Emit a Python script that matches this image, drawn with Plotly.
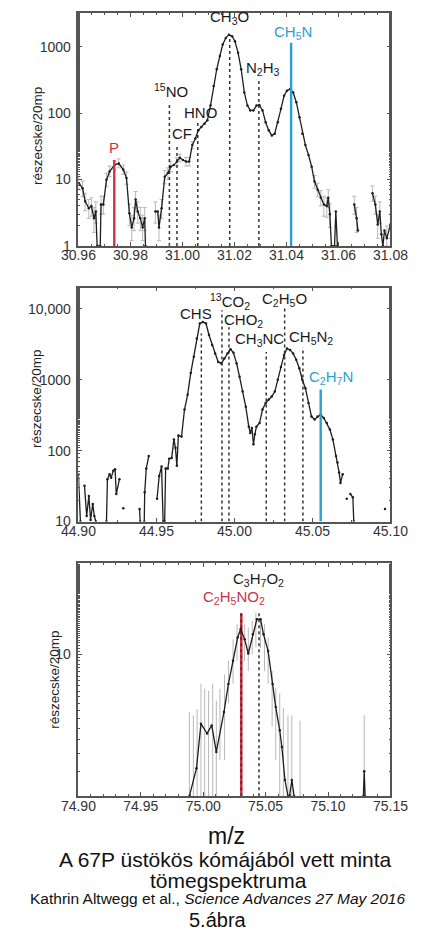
import math
import plotly.graph_objects as go

# ---------------- data ----------------
# Panel 1 (m/z ~31)
mz1 = [30.9602, 30.9616, 30.9626, 30.9640, 30.9650, 30.9660, 30.9667, 30.9672, 30.9684, 30.9687, 30.9696,
       30.9708, 30.9720, 30.9738, 30.9755, 30.9773, 30.9785, 30.9796, 30.9805, 30.9814, 30.9820, 30.9828,
       30.9838, 30.9847, 30.9855, 30.9858, None,
       30.9896, 30.9905, 30.9910, 30.9920, 30.9932, 30.9944, 30.9955, 30.9967, 30.9979, 30.9990, 31.0002,
       31.0014, 31.0026, 31.0038, 31.0050, 31.0061, 31.0073, 31.0085, 31.0096, 31.0108, 31.0120, 31.0132,
       31.0144, 31.0155, 31.0167, 31.0179, 31.0191, 31.0202, 31.0214, 31.0226, 31.0238, 31.0250, 31.0261,
       31.0273, 31.0285, 31.0296, 31.0308, 31.0320, 31.0332, 31.0344, 31.0355, 31.0367, 31.0379, 31.0391,
       31.0402, 31.0414, 31.0426, 31.0438, 31.0450, 31.0461, 31.0473, 31.0485, 31.0497, 31.0508, 31.0520,
       31.0532, 31.0544, 31.0555, 31.0561, 31.0567, 31.0573, 31.0585, 31.0590, 31.0596, None,
       31.0661, 31.0670, 31.0675, None,
       31.0731, 31.0742, 31.0751, 31.0759, 31.0765, 31.0771, 31.0777, 31.0786, 31.0800]
cnt1 = [8.8, 7.4, 4.7, 3.7, 4.0, 2.6, 3.3, 1, 1, 4.2, 4.2,
        9.9, 13.2, 16.5, 17.5, 14, 10.5, 3.1, 1.9, 2.6, 5.0, 3.3,
        2.6, 1.9, 2.6, 1, None,
        3.3, 3.3, 1.9, 3.7, 11, 12.5, 15.6, 16.5, 18.6, 21.3, 19.7,
        18.6, 18.6, 33, 41.5, 55, 62, 69, 78, 130, 257, 458,
        725, 1080, 1360, 1520, 1440, 1210, 815, 458, 205, 130, 110,
        110, 130, 133, 110, 73, 55, 46, 49, 73, 116, 183,
        218, 230, 205, 146, 87, 49, 33, 23.4, 15.6, 9.3, 7.0,
        5.3, 4.2, 4.0, 5.3, 3.0, 1, 1, 3.3, 1, None,
        4.2, 2.6, 1.7, None,
        6.2, 4.2, 2.1, 3.3, 1.5, 1, 1.7, 1.3, 2.1]

# Panel 1 error bars (position, lower, upper)
eb1_mz = [30.9602, 30.9616, 30.9626, 30.9640, 30.9650, 30.9660, 30.9667, 30.9687, 30.9696, 30.9708,
          30.9720, 30.9738, 30.9755, 30.9773, 30.9785, 30.9796, 30.9805, 30.9814, 30.9820, 30.9828,
          30.9838, 30.9847, 30.9855, 30.9896, 30.9910, 30.9920, 30.9932, 30.9944, 30.9955, 30.9979,
          30.9990, 31.0014, 31.0026, 31.0038, 31.0508, 31.0520, 31.0532, 31.0544, 31.0555, 31.0561,
          31.0567, 31.0661, 31.0670, 31.0731, 31.0742, 31.0751, 31.0759, 31.0786, 31.0800]
eb1_lo = [7, 5.5, 3.4, 2.6, 2.8, 1.6, 2.2, 3, 3, 7.8,
          11, 14, 15, 12, 8.5, 2, 1.2, 1.7, 3.6, 2.2,
          1.7, 1.2, 1.7, 2.2, 1.2, 2.6, 8.6, 10, 13, 16,
          18.5, 16, 16, 29, 7.4, 5.5, 4, 2.8, 2.7, 3.8,
          1.9, 3, 1.6, 4.7, 3, 1.3, 2.2, 1, 1.3]
eb1_hi = [11, 9.5, 6.2, 5, 5.3, 3.8, 4.6, 5.6, 5.6, 12.5,
          16, 19, 20.5, 16.5, 13, 4.3, 2.9, 3.8, 6.6, 4.6,
          3.8, 2.9, 3.8, 4.6, 2.9, 5, 13.6, 15, 18.5, 21.5,
          24, 21.5, 21.5, 37, 11.5, 8.8, 6.8, 5.6, 5.3, 7,
          4.3, 5.6, 3.8, 8, 5.6, 3, 4.6, 2, 3]

sp1_name = ["P", "<sup>15</sup>NO", "CF", "HNO", "CH<sub>3</sub>O", "N<sub>2</sub>H<sub>3</sub>", "CH<sub>5</sub>N"]
sp1_mz = [30.9738, 30.9950, 30.9979, 31.0059, 31.0182, 31.0294, 31.0418]
sp1_top = [19.6, 138, 31, 73.6, 1500, 308, 1150]
sp1_kind = ["red", "dot", "dot", "dot", "dot", "dot", "blue"]
xt1 = [30.96, 30.98, 31.00, 31.02, 31.04, 31.06, 31.08]
xl1 = ["30.96", "30.98", "31.00", "31.02", "31.04", "31.06", "31.08"]
yt1 = [1, 10, 100, 1000]
yl1 = ["1", "10", "100", "1000"]

# Panel 2 (m/z ~45)
mz2 = [44.9000, 44.9013, None,
       44.9039, 44.9053, 44.9067, 44.9078, 44.9092, 44.9102, 44.9112, None,
       44.9180, 44.9186, 44.9200, 44.9210, 44.9224, 44.9235, 44.9243, 44.9263, None,
       44.9288, None,
       44.9392, 44.9396, None,
       44.9422, 44.9425, 44.9435, 44.9451, None,
       44.9504, 44.9518, 44.9533, 44.9543, 44.9553, 44.9559, 44.9573, 44.9582, 44.9598, 44.9612,
       44.9622, 44.9631, 44.9641, 44.9661, 44.9680, 44.9700, 44.9720, 44.9740, 44.9759, 44.9778,
       44.9798, 44.9818, 44.9837, 44.9857, 44.9876, 44.9896, 44.9916, 44.9935, 44.9955, 44.9975,
       44.9994, 45.0014, 45.0033, 45.0053, 45.0073, 45.0092, 45.0102, 45.0112, 45.0122, 45.0131,
       45.0141, 45.0161, 45.0180, 45.0200, 45.0220, 45.0239, 45.0259, 45.0278, 45.0298, 45.0318,
       45.0337, 45.0357, 45.0376, 45.0396, 45.0416, 45.0435, 45.0455, 45.0475, 45.0494, 45.0514,
       45.0533, 45.0553, 45.0573, 45.0592, 45.0612, 45.0631, 45.0651, 45.0661, 45.0671, 45.0680,
       45.0694, None,
       45.0720, None,
       45.0743, 45.0759, 45.0765, None,
       45.0965]
cnt2 = [46.5, 10, None,
        32, 12, 23, 10.5, 17.7, 12, 10, None,
        10, 39.6, 46.5, 41.6, 52, 54.5, 24.4, 39.6, None,
        15.4, None,
        15, 10, None,
        10, 25.8, 56, 84, None,
        21, 44, 59.5, 10, 10, 56, 56, 77, 79, 144,
        110, 61, 163, 158, 380, 612, 1240, 2100, 3800, 6200,
        6500, 6200, 4270, 3100, 2350, 1780, 1700, 2000, 2350, 2700,
        2400, 1700, 1100, 680, 415, 218, 177, 209, 123, 170,
        218, 245, 380, 468, 525, 580, 680, 1000, 1510, 2240,
        2750, 2630, 2350, 1910, 1450, 1000, 760, 468, 302, 275,
        302, 323, 288, 245, 198, 144, 84, 68, 49, 35,
        46.5, None,
        21, None,
        24.4, 22, 10, None,
        15]

sp2_name = ["CHS", "<sup>13</sup>CO<sub>2</sub>", "CHO<sub>2</sub>", "CH<sub>3</sub>NC",
            "C<sub>2</sub>H<sub>5</sub>O", "CH<sub>5</sub>N<sub>2</sub>", "C<sub>2</sub>H<sub>7</sub>N"]
sp2_mz = [44.9788, 44.9920, 44.9965, 45.0204, 45.0322, 45.0439, 45.0553]
sp2_top = [4470, 9550, 5500, 2460, 10500, 2880, 725]
sp2_kind = ["dot", "dot", "dot", "dot", "dot", "dot", "blue"]
xt2 = [44.90, 44.95, 45.00, 45.05, 45.10]
xl2 = ["44.90", "44.95", "45.00", "45.05", "45.10"]
yt2 = [10, 100, 1000, 10000]
yl2 = ["10", "100", "1000", "10,000"]

# Panel 3 (m/z ~75)
mz3 = [74.9889, 74.9946, 74.9982, 75.0031, 75.0068, 75.0105, 75.0166, 75.0202, 75.0239, 75.0276,
       75.0300, 75.0332, 75.0361, 75.0398, 75.0430, 75.0459, 75.0483, 75.0520, 75.0556, 75.0581,
       75.0613, 75.0630, 75.0655, 75.0679, 75.0691, 75.0710, 75.0728, None,
       75.1283, 75.1290, 75.1297]
cnt3 = [1, 1.57, 3.24, 2.76, 3.15, 2.05, 3.91, 6.17, 8.98, 13.1,
        15.0, 12.7, 10.1, 13.8, 17.6, 17.6, 13.8, 10.5, 6.17, 4.24,
        2.91, 2.22, 1.30, 1, 1, 1.30, 1, None,
        1, 1.5, 1]

eb3_mz = [74.9889, 74.9921, 74.9951, 74.9982, 75.0012, 75.0043, 75.0076, 75.0105, 75.0134, 75.0171,
          75.0202, 75.0239, 75.0271, 75.0300, 75.0332, 75.0361, 75.0393, 75.0422, 75.0459, 75.0491,
          75.0520, 75.0552, 75.0581, 75.0613, 75.0642, 75.0679, 75.0710, 75.0776, 75.1290]
eb3_lo = [1, 1, 1, 1, 1, 1, 1, 1, 1.8, 1.8,
          4.5, 6.2, 9.0, 9.5, 8.9, 7.6, 10, 11.2, 11, 7.6,
          6.2, 3.1, 1.8, 1, 1, 1, 1, 1, 1]
eb3_hi = [3.9, 3.7, 4.1, 6.2, 5.7, 5.5, 6.2, 4.7, 5.7, 7.2,
          9.0, 12.7, 16.2, 17.1, 16.2, 15.4, 17.1, 19.6, 18, 16.2,
          13.1, 7.6, 5.8, 5.3, 4.2, 3.7, 3.7, 3.4, 3.7]

sp3_name = ["C<sub>2</sub>H<sub>5</sub>NO<sub>2</sub>", "C<sub>3</sub>H<sub>7</sub>O<sub>2</sub>"]
sp3_mz = [75.0305, 75.0447]
sp3_top = [19.4, 20]
sp3_kind = ["redglycine", "dot"]
xt3 = [74.90, 74.95, 75.00, 75.05, 75.10, 75.15]
xl3 = ["74.90", "74.95", "75.00", "75.05", "75.10", "75.15"]
yt3 = [10]
yl3 = ["10"]

# ---------------- style ----------------
W, H = 424, 943
FONT = "Liberation Sans, Arial, sans-serif"
RED = "#cc3344"
BLUE = "#2b9fd0"
CURVE = "#1e1e1e"
AXIS = "#555555"
ERR = "#b8b8b8"

# label offsets (pixels): horizontal shift, distance of label centre above line top
sp1_off = [(0, 13), (2, 13), (5, 13), (3, 9), (0, 18), (4, 12), (2, 10)]
sp2_off = [(-5, 20), (8, 9), (15, 7), (-7, 12), (0, 8), (8, 10), (10, 12)]
sp3_off = [(-7, 16), (-1, 32)]

x_dom = [66 / W, 407 / W]
def ydom(top_px, bot_px):
    return [1 - bot_px / H, 1 - top_px / H]

panels = [
    dict(ax="", mz=mz1, cnt=cnt1, eb=(eb1_mz, eb1_lo, eb1_hi), ebw=2,
         sp=(sp1_name, sp1_mz, sp1_top, sp1_kind, sp1_off),
         xr=[30.96, 31.08], xt=(xt1, xl1), mdt=0.005, yr=[0, 3.51], dom=ydom(13, 248),
         yt=(yt1, yl1), ymin=1, ttl=(22, 137)),
    dict(ax="2", mz=mz2, cnt=cnt2, eb=None, ebw=0,
         sp=(sp2_name, sp2_mz, sp2_top, sp2_kind, sp2_off),
         xr=[44.90, 45.10], xt=(xt2, xl2), mdt=0.025, yr=[1, 4.30], dom=ydom(290, 526),
         yt=(yt2, yl2), ymin=10, ttl=(20, 402)),
    dict(ax="3", mz=mz3, cnt=cnt3, eb=(eb3_mz, eb3_lo, eb3_hi), ebw=0,
         sp=(sp3_name, sp3_mz, sp3_top, sp3_kind, sp3_off),
         xr=[74.90, 75.15], xt=(xt3, xl3), mdt=0.01, yr=[0, 1.64], dom=ydom(568, 803),
         yt=(yt3, yl3), ymin=1, ttl=(40, 686)),
]

fig = go.Figure()
annotations = []
layout = dict(width=W, height=H, margin=dict(l=0, r=0, t=0, b=0),
              paper_bgcolor="white", plot_bgcolor="white", showlegend=False,
              font=dict(family=FONT, color="#222"))

for p in panels:
    xa, ya = "x" + p["ax"], "y" + p["ax"]
    # error bars
    if p["eb"] is not None:
        emz, elo, ehi = p["eb"]
        fig.add_trace(go.Scatter(
            x=emz, y=elo, xaxis=xa, yaxis=ya, mode="markers",
            marker=dict(size=1, color="rgba(0,0,0,0)"),
            error_y=dict(type="data", symmetric=False,
                         array=[h - l for h, l in zip(ehi, elo)],
                         arrayminus=[0] * len(elo),
                         color=ERR, thickness=1, width=p["ebw"]),
            hoverinfo="skip"))
    names, mzs, tops, kinds, offs = p["sp"]
    # dotted species lines under the curve
    for m, t, k in zip(mzs, tops, kinds):
        if k in ("dot", "redglycine"):
            if k == "redglycine":
                fig.add_trace(go.Scatter(x=[m, m], y=[p["ymin"], t], xaxis=xa, yaxis=ya, mode="lines",
                                         line=dict(color=RED, width=2.6), hoverinfo="skip"))
            fig.add_trace(go.Scatter(x=[m, m], y=[p["ymin"], t], xaxis=xa, yaxis=ya, mode="lines",
                                     line=dict(color="#333", width=1.5, dash="dot"), hoverinfo="skip"))
    # spectrum curve
    fig.add_trace(go.Scatter(x=p["mz"], y=p["cnt"], xaxis=xa, yaxis=ya, mode="lines+markers",
                             line=dict(color=CURVE, width=1.3), marker=dict(size=2.5, color=CURVE),
                             connectgaps=False, hoverinfo="skip"))
    # coloured identification lines over the curve
    for m, t, k in zip(mzs, tops, kinds):
        if k in ("red", "blue"):
            fig.add_trace(go.Scatter(x=[m, m], y=[p["ymin"], t], xaxis=xa, yaxis=ya, mode="lines",
                                     line=dict(color=RED if k == "red" else BLUE, width=2.4),
                                     hoverinfo="skip"))
    # labels
    for n, m, t, k, (dx, dy) in zip(names, mzs, tops, kinds, offs):
        col = RED if k in ("red", "redglycine") else (BLUE if k == "blue" else "#1a1a1a")
        annotations.append(dict(x=m, y=math.log10(t), xref=xa, yref=ya, text=n, showarrow=False,
                                xanchor="center", yanchor="middle", xshift=dx, yshift=dy,
                                font=dict(size=15, color=col, family=FONT)))
    # y-axis title
    annotations.append(dict(x=p["ttl"][0] / W, y=1 - p["ttl"][1] / H, xref="paper", yref="paper",
                            text="részecske/20mp", textangle=-90, showarrow=False,
                            xanchor="center", yanchor="middle",
                            font=dict(size=13.5, color="#222", family=FONT)))
    axcommon = dict(showline=True, linecolor=AXIS, linewidth=1.5, mirror="ticks", ticks="inside",
                    ticklen=4, tickcolor=AXIS, tickwidth=1, showgrid=False, zeroline=False,
                    ticklabeloverflow="allow",
                    tickfont=dict(size=14, color="#333", family=FONT))
    layout["xaxis" + p["ax"]] = dict(axcommon, domain=x_dom, anchor=ya, range=p["xr"],
                                     tickvals=p["xt"][0], ticktext=p["xt"][1],
                                     ticklabelstandoff=-4,
                                     minor=dict(ticks="inside", ticklen=2, tickcolor=AXIS,
                                                tick0=p["xr"][0], dtick=p["mdt"]))
    layout["yaxis" + p["ax"]] = dict(axcommon, domain=p["dom"], anchor=xa, type="log", range=p["yr"],
                                     tickvals=p["yt"][0], ticktext=p["yt"][1],
                                     ticklabelstandoff=3,
                                     minor=dict(ticks="inside", ticklen=2, tickcolor=AXIS))

# bottom texts
def txt(s, x, y, size):
    annotations.append(dict(x=x / W, y=1 - y / H, xref="paper", yref="paper", text=s, showarrow=False,
                            xanchor="center", yanchor="middle",
                            font=dict(size=size, color="#111", family=FONT)))

txt("m/z", 228, 843, 23)
txt("A 67P üstökös kómájából vett minta", 227, 867, 21)
txt("tömegspektruma", 230, 888, 21)
txt("Kathrin Altwegg et al., <i>Science Advances 27 May 2016</i>", 218, 906, 15.5)
txt("5.ábra", 219, 928, 20)

layout["annotations"] = annotations
fig.update_layout(**layout)
fig.write_html("out.html", config={"displayModeBar": False},
               post_script="document.body.style.margin='0';document.body.style.overflow='hidden';")
